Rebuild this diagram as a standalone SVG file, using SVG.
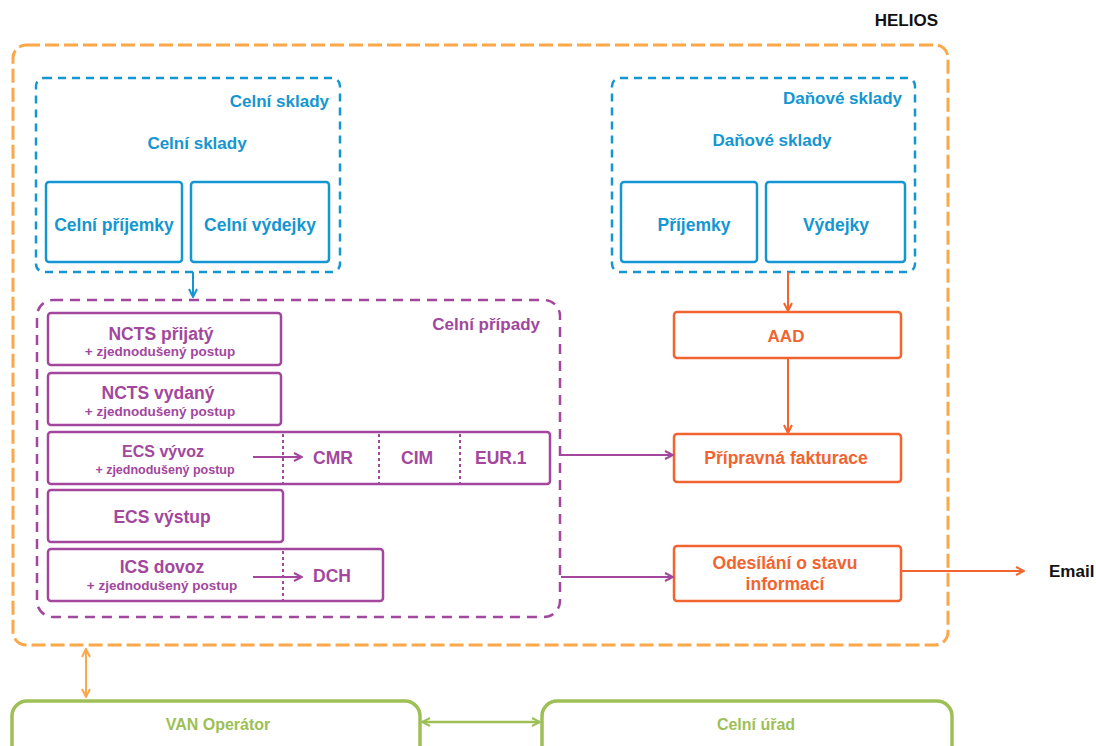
<svg xmlns="http://www.w3.org/2000/svg" width="1096" height="746" viewBox="0 0 1096 746">
<defs>
<style>
text{font-family:"Liberation Sans",Arial,sans-serif;font-weight:bold}
.b{fill:#1396d1}.p{fill:#a2479d}.o{fill:#f2642f}.g{fill:#9dbf55}.k{fill:#111}
.bs{fill:none;stroke:#1396d1;stroke-width:2.5}
.bd{fill:none;stroke:#1396d1;stroke-width:2.5;stroke-dasharray:8 6}
.ps{fill:none;stroke:#a2479d;stroke-width:2.5}
.pd{fill:none;stroke:#a2479d;stroke-width:2.5;stroke-dasharray:10 7}
.pdot{fill:none;stroke:#a2479d;stroke-width:2;stroke-dasharray:3 3}
.os{fill:none;stroke:#f2642f;stroke-width:2.5}
.od{fill:none;stroke:#faa84a;stroke-width:3;stroke-dasharray:14 5}
.gs{fill:none;stroke:#9dbf55;stroke-width:3.5}
</style>
<marker id="ab" viewBox="0 0 10 10" refX="9" refY="5" markerWidth="10" markerHeight="10" markerUnits="userSpaceOnUse" orient="auto-start-reverse"><path d="M1,1 L9,5 L1,9" fill="none" stroke="#1396d1" stroke-width="2"/></marker>
<marker id="ap" viewBox="0 0 10 10" refX="9" refY="5" markerWidth="10" markerHeight="10" markerUnits="userSpaceOnUse" orient="auto-start-reverse"><path d="M1,1 L9,5 L1,9" fill="none" stroke="#a2479d" stroke-width="2"/></marker>
<marker id="ao" viewBox="0 0 10 10" refX="9" refY="5" markerWidth="10" markerHeight="10" markerUnits="userSpaceOnUse" orient="auto-start-reverse"><path d="M1,1 L9,5 L1,9" fill="none" stroke="#f2642f" stroke-width="2"/></marker>
<marker id="ay" viewBox="0 0 10 10" refX="9" refY="5" markerWidth="10" markerHeight="10" markerUnits="userSpaceOnUse" orient="auto-start-reverse"><path d="M1,1 L9,5 L1,9" fill="none" stroke="#faa84a" stroke-width="2"/></marker>
<marker id="ag" viewBox="0 0 10 10" refX="9" refY="5" markerWidth="10" markerHeight="10" markerUnits="userSpaceOnUse" orient="auto-start-reverse"><path d="M1,1 L9,5 L1,9" fill="none" stroke="#9dbf55" stroke-width="2"/></marker>
</defs>
<rect width="1096" height="746" fill="#fff"/>

<g id="helios">
<rect class="od" x="13" y="45" width="935" height="600" rx="13"/>
<text class="k" x="938" y="26" font-size="17" text-anchor="end">HELIOS</text>
</g>

<g id="celni-sklady">
<rect class="bd" x="36" y="78" width="304" height="194" rx="8"/>
<text class="b" x="329" y="107" font-size="17" text-anchor="end">Celní sklady</text>
<text class="b" x="197" y="149" font-size="17" text-anchor="middle">Celní sklady</text>
</g>
<g id="celni-prijemky">
<rect class="bs" x="46" y="182" width="136" height="80" rx="3"/>
<text class="b" x="114" y="231" font-size="17.5" text-anchor="middle">Celní příjemky</text>
</g>
<g id="celni-vydejky">
<rect class="bs" x="191" y="182" width="138" height="80" rx="3"/>
<text class="b" x="260" y="231" font-size="17.5" text-anchor="middle">Celní výdejky</text>
</g>

<g id="danove-sklady">
<rect class="bd" x="612" y="78" width="303" height="194" rx="8"/>
<text class="b" x="902" y="104" font-size="17" text-anchor="end">Daňové sklady</text>
<text class="b" x="772" y="146" font-size="17" text-anchor="middle">Daňové sklady</text>
</g>
<g id="prijemky">
<rect class="bs" x="621" y="182" width="136" height="80" rx="3"/>
<text class="b" x="694" y="231" font-size="17.5" text-anchor="middle">Příjemky</text>
</g>
<g id="vydejky">
<rect class="bs" x="766" y="182" width="139" height="80" rx="3"/>
<text class="b" x="836" y="231" font-size="17.5" text-anchor="middle">Výdejky</text>
</g>

<g id="celni-pripady">
<rect class="pd" x="37" y="300" width="523" height="317" rx="16"/>
<text class="p" x="540" y="330" font-size="17" text-anchor="end">Celní případy</text>
</g>
<g id="ncts-prijaty">
<rect class="ps" x="48" y="313" width="233" height="52" rx="3"/>
<text class="p" x="161" y="340" font-size="17.5" text-anchor="middle">NCTS přijatý</text>
<text class="p" x="160" y="356" font-size="13.5" text-anchor="middle">+ zjednodušený postup</text>
</g>
<g id="ncts-vydany">
<rect class="ps" x="48" y="373" width="233" height="52" rx="3"/>
<text class="p" x="158" y="399" font-size="17.5" text-anchor="middle">NCTS vydaný</text>
<text class="p" x="160" y="416" font-size="13.5" text-anchor="middle">+ zjednodušený postup</text>
</g>
<g id="ecs-vyvoz">
<rect class="ps" x="48" y="432" width="502" height="52" rx="3"/>
<text class="p" x="163" y="457" font-size="16" text-anchor="middle">ECS vývoz</text>
<text class="p" x="165" y="474" font-size="12.5" text-anchor="middle">+ zjednodušený postup</text>
<line class="pdot" x1="283" y1="434" x2="283" y2="483"/>
<line class="pdot" x1="379" y1="434" x2="379" y2="483"/>
<line class="pdot" x1="460" y1="434" x2="460" y2="483"/>
<text class="p" x="313" y="464" font-size="17.5">CMR</text>
<text class="p" x="401" y="464" font-size="17.5">CIM</text>
<text class="p" x="475" y="464" font-size="17.5">EUR.1</text>
</g>
<g id="ecs-vystup">
<rect class="ps" x="48" y="490" width="235" height="52" rx="3"/>
<text class="p" x="162" y="523" font-size="17.5" text-anchor="middle">ECS výstup</text>
</g>
<g id="ics-dovoz">
<rect class="ps" x="48" y="549" width="335" height="52" rx="3"/>
<text class="p" x="162" y="573" font-size="17.5" text-anchor="middle">ICS dovoz</text>
<text class="p" x="162" y="590" font-size="13.5" text-anchor="middle">+ zjednodušený postup</text>
<line class="pdot" x1="283" y1="551" x2="283" y2="600"/>
<text class="p" x="313" y="582" font-size="17.5">DCH</text>
</g>

<g id="aad">
<rect class="os" x="674" y="312" width="227" height="46" rx="3"/>
<text class="o" x="786" y="342" font-size="17" text-anchor="middle">AAD</text>
</g>
<g id="fakturace">
<rect class="os" x="674" y="434" width="227" height="48" rx="3"/>
<text class="o" x="786" y="464" font-size="17.5" text-anchor="middle">Přípravná fakturace</text>
</g>
<g id="odesilani">
<rect class="os" x="674" y="546" width="227" height="55" rx="3"/>
<text class="o" x="785" y="569" font-size="17.5" text-anchor="middle">Odesílání o stavu</text>
<text class="o" x="785" y="590" font-size="17.5" text-anchor="middle">informací</text>
</g>
<g id="email">
<text class="k" x="1049" y="577" font-size="17">Email</text>
</g>

<g id="van-operator">
<rect class="gs" x="12" y="701" width="408" height="70" rx="15"/>
<text class="g" x="218" y="730" font-size="16" text-anchor="middle">VAN Operátor</text>
</g>
<g id="celni-urad">
<rect class="gs" x="542" y="701" width="410" height="70" rx="15"/>
<text class="g" x="756" y="730" font-size="16" text-anchor="middle">Celní úřad</text>
</g>

<g id="connectors">
<line x1="193" y1="272" x2="193" y2="297" stroke="#1396d1" stroke-width="2" marker-end="url(#ab)"/>
<line x1="253" y1="457" x2="302" y2="457" stroke="#a2479d" stroke-width="2" marker-end="url(#ap)"/>
<line x1="253" y1="577" x2="302" y2="577" stroke="#a2479d" stroke-width="2" marker-end="url(#ap)"/>
<line x1="788" y1="272" x2="788" y2="311" stroke="#f2642f" stroke-width="2" marker-end="url(#ao)"/>
<line x1="788" y1="358" x2="788" y2="433" stroke="#f2642f" stroke-width="2" marker-end="url(#ao)"/>
<line x1="561" y1="455" x2="673" y2="455" stroke="#a2479d" stroke-width="2" marker-end="url(#ap)"/>
<line x1="561" y1="577" x2="673" y2="577" stroke="#a2479d" stroke-width="2" marker-end="url(#ap)"/>
<line x1="901" y1="571" x2="1024" y2="571" stroke="#f2642f" stroke-width="2" marker-end="url(#ao)"/>
<line x1="86" y1="649" x2="86" y2="697" stroke="#faa84a" stroke-width="2" marker-start="url(#ay)" marker-end="url(#ay)"/>
<line x1="422" y1="722" x2="540" y2="722" stroke="#9dbf55" stroke-width="2.5" marker-start="url(#ag)" marker-end="url(#ag)"/>
</g>
</svg>
